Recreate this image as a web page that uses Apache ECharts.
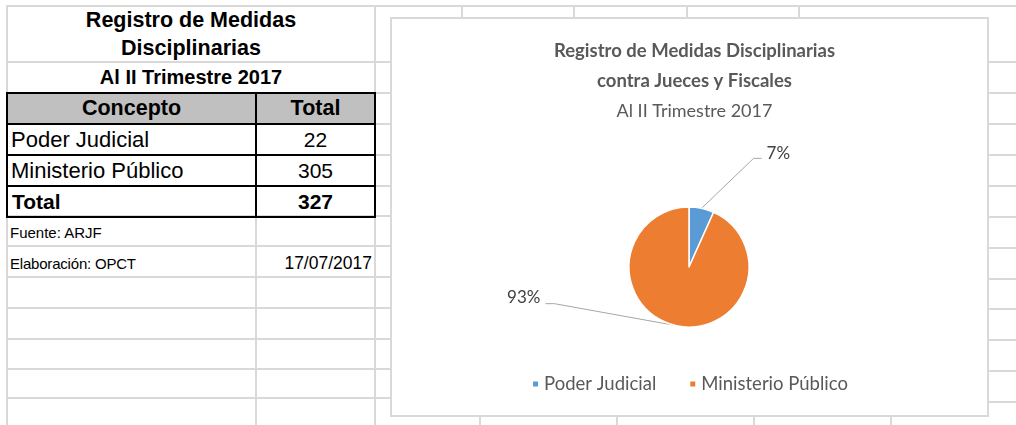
<!DOCTYPE html>
<html>
<head>
<meta charset="utf-8">
<script src="https://cdn.jsdelivr.net/npm/echarts@6/dist/echarts.min.js"></script>
<style>
  html, body { margin: 0; padding: 0; background: #fff; width: 1016px; height: 425px; overflow: hidden; }
  #sheet { position: absolute; left: 0; top: 0; width: 1016px; height: 425px; }
  .gl { position: absolute; background: #d9d9d9; }
  .bl { position: absolute; background: #000; }
  .cell { position: absolute; display: flex; align-items: center; font-family: 'Liberation Sans', Arial, sans-serif; color: #000; white-space: nowrap; box-sizing: border-box; }
  #box { position: absolute; left: 390px; top: 17px; width: 599px; height: 400px; border: 2px solid #d9d9d9; background: #fff; box-sizing: border-box; }
  #chart { position: absolute; left: 390px; top: 17px; width: 599px; height: 400px; }
</style>
</head>
<body>
<div id="sheet"></div>
<div id="box"></div>
<div id="chart"></div>
<script>
// ---- data ----
const categories = ['Poder Judicial', 'Ministerio Público'];
const values = [22, 305];
const colors = ['#5b9bd5', '#ed7d31'];
const tableTitleLines = ['Registro de Medidas', 'Disciplinarias'];
const tableSubtitle = 'Al II Trimestre 2017';
const tableHeaders = ['Concepto', 'Total'];
const totalLabel = 'Total';
const sourceNote = 'Fuente: ARJF';
const authorNote = 'Elaboración: OPCT';
const dateNote = '17/07/2017';
const chartTitle = 'Registro de Medidas Disciplinarias\ncontra Jueces y Fiscales';
const chartSubtitle = 'Al II Trimestre 2017';

// ---- spreadsheet layout ----
const sheet = document.getElementById('sheet');
function el(cls, x, y, w, h, text, style) {
  const d = document.createElement('div');
  d.className = cls;
  d.style.left = x + 'px'; d.style.top = y + 'px';
  d.style.width = w + 'px'; d.style.height = h + 'px';
  if (text !== undefined) d.textContent = text;
  if (style) Object.assign(d.style, style);
  sheet.appendChild(d);
  return d;
}
const rowYLeft = [62, 93, 124, 155, 186, 216, 246, 277, 308, 339, 369, 398];
const rowYRight = [62, 93, 124, 155, 186, 217, 248, 279, 309, 340, 371, 402];
const colTop = [462, 574, 687, 799];
const colBottom = [480, 617, 754, 891];
// grid lines
el('gl', 7, 5, 1009, 2);
rowYLeft.forEach(y => el('gl', 7, y - 1, 383, 2));
rowYRight.forEach(y => el('gl', 988, y - 1, 28, 2));
el('gl', 6, 5, 2, 420);
el('gl', 255, 93, 2, 332);
el('gl', 374, 5, 2, 420);
colTop.forEach(x => el('gl', x - 1, 5, 2, 14));
colBottom.forEach(x => el('gl', x - 1, 414, 2, 11));

// table borders
const tL = 7, tR = 375, tT = 93, tB = 217, tM = 256;
el('cell', tL, tT, tR - tL, 31, undefined, { background: '#c0c0c0' });
[tT, 124, 155, 186, tB].forEach(y => el('bl', tL - 1, y - 1, tR - tL + 2, 2));
[tL, tM, tR].forEach(x => el('bl', x - 1, tT - 1, 2, tB - tT + 2));

// title cells
const tw = tR - tL;
el('cell', tL, 6, tw, 56, undefined, { flexDirection: 'column', justifyContent: 'center', fontWeight: 'bold', fontSize: '21.5px', lineHeight: '28px' })
  .innerHTML = tableTitleLines.map(t => '<div>' + t + '</div>').join('');
el('cell', tL, 62, tw, 31, tableSubtitle, { justifyContent: 'center', fontWeight: 'bold', fontSize: '20px' });
// header
el('cell', tL, 93, tM - tL, 31, tableHeaders[0], { justifyContent: 'center', fontWeight: 'bold', fontSize: '21.5px' });
el('cell', tM, 93, tR - tM, 31, tableHeaders[1], { justifyContent: 'center', fontWeight: 'bold', fontSize: '21.5px' });
// data rows
categories.forEach((c, i) => {
  const y = 124 + i * 31;
  el('cell', tL, y, tM - tL, 31, c, { paddingLeft: '4px', fontSize: '22px' });
  el('cell', tM, y, tR - tM, 31, String(values[i]), { justifyContent: 'center', fontSize: '21px' });
});
const total = values.reduce((a, b) => a + b, 0);
el('cell', tL, 186, tM - tL, 31, totalLabel, { paddingLeft: '5px', fontWeight: 'bold', fontSize: '21px' });
el('cell', tM, 186, tR - tM, 31, String(total), { justifyContent: 'center', fontWeight: 'bold', fontSize: '21px' });
el('cell', tL, 217, tM - tL, 31, sourceNote, { paddingLeft: '3px', fontSize: '15px' });
el('cell', tL, 248, tM - tL, 31, authorNote, { paddingLeft: '3px', fontSize: '15px', letterSpacing: '-0.2px' });
el('cell', tM, 248, tR - tM, 31, dateNote, { justifyContent: 'flex-end', paddingRight: '3px', fontSize: '17.5px' });

// ---- chart ----
const chart = echarts.init(document.getElementById('chart'), null, { renderer: 'canvas' });
const font = 'Lato, "Open Sans", sans-serif';
chart.setOption({
  animation: false,
  color: colors,
  title: {
    text: chartTitle,
    subtext: chartSubtitle,
    left: '50%',
    top: 14,
    itemGap: 3,
    textAlign: 'center',
    textStyle: { fontFamily: font, fontWeight: 'bold', fontSize: 18.5, color: '#595959', lineHeight: 30 },
    subtextStyle: { fontFamily: font, fontWeight: 'normal', fontSize: 18, color: '#595959', lineHeight: 24 }
  },
  legend: {
    data: categories,
    left: 'center',
    top: 352,
    icon: 'rect',
    itemWidth: 7,
    itemHeight: 7,
    itemGap: 32,
    textStyle: { fontFamily: font, fontSize: 18.5, color: '#595959', lineHeight: 20 }
  },
  series: [{
    type: 'pie',
    center: [299, 250],
    radius: 60,
    startAngle: 90,
    clockwise: true,
    percentPrecision: 0,
    avoidLabelOverlap: false,
    itemStyle: { borderColor: '#fff', borderWidth: 1.5 },
    label: {
      show: true,
      position: 'outside',
      formatter: '{d}%',
      fontFamily: font,
      fontSize: 17,
      color: '#404040'
    },
    labelLine: { show: true, lineStyle: { color: '#a6a6a6', width: 1 } },
    labelLayout: function (p) {
      const p0 = p.labelLinePoints[0];
      if (p.dataIndex === 0) {
        const e = [p0[0] + 52, p0[1] - 50];
        const f = [e[0] + 8, e[1]];
        return { x: f[0] + 5, y: f[1] - 5, align: 'left', verticalAlign: 'middle', labelLinePoints: [p0, e, f] };
      } else {
        const e = [p0[0] - 122, p0[1] - 22];
        const f = [e[0] - 9, e[1]];
        return { x: f[0] - 5, y: f[1] - 6, align: 'right', verticalAlign: 'middle', labelLinePoints: [p0, e, f] };
      }
    },
    data: categories.map((c, i) => ({ name: c, value: values[i] }))
  }]
});
</script>
</body>
</html>
